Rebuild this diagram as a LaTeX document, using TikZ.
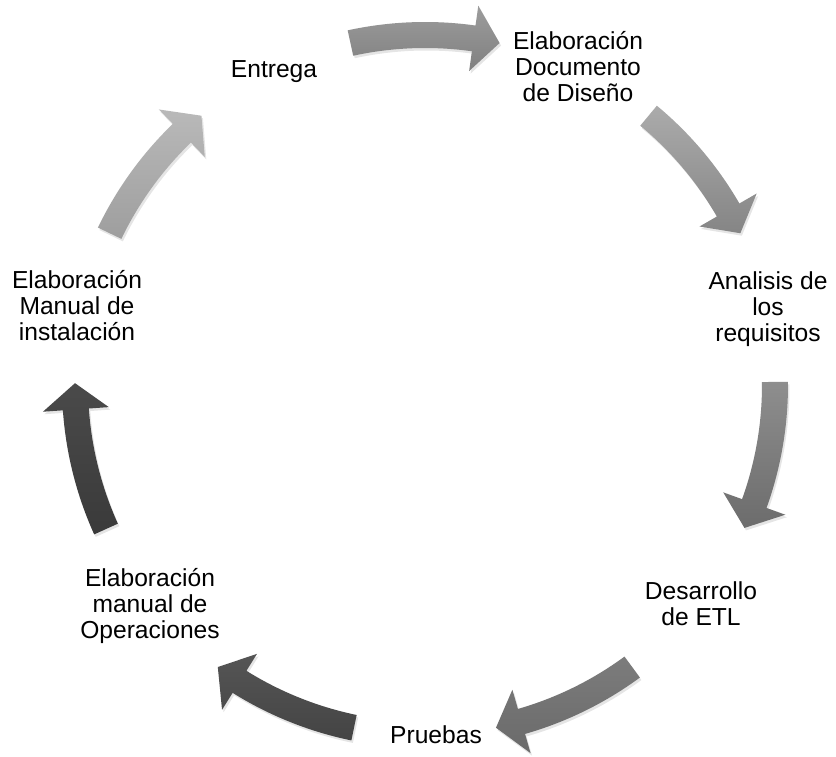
\documentclass[tikz,border=0pt]{standalone}
\usepackage{fontspec}
\setmainfont{Liberation Sans}
\definecolor{aAt}{HTML}{9C9C9C}\definecolor{aAb}{HTML}{808080}
\definecolor{aBt}{HTML}{ABABAB}\definecolor{aBb}{HTML}{858585}
\definecolor{aCt}{HTML}{8E8E8E}\definecolor{aCb}{HTML}{6C6C6C}
\definecolor{aDt}{HTML}{7C7C7C}\definecolor{aDb}{HTML}{6A6A6A}
\definecolor{aEt}{HTML}{555555}\definecolor{aEb}{HTML}{444444}
\definecolor{aFt}{HTML}{4A4A4A}\definecolor{aFb}{HTML}{3A3A3A}
\definecolor{aGt}{HTML}{B9B9B9}\definecolor{aGb}{HTML}{9E9E9E}
\newcommand\cycarrow[3]{% #1 mid angle, #2 top colour, #3 bottom colour
  \pgfmathsetmacro\cyA{#1+12.3}%
  \pgfmathsetmacro\cyB{#1-8}%
  \pgfmathsetmacro\cyC{#1-12.3}%
  \fill[black,opacity=0.10,shift={(1.5pt,-2.5pt)}] (\cyA:363pt) arc[start angle=\cyA,end angle=\cyB,radius=363pt] -- (\cyB:383pt) -- (\cyC:350pt) -- (\cyB:317pt) -- (\cyB:337pt) arc[start angle=\cyB,end angle=\cyA,radius=337pt] -- cycle;
  \shade[top color=#2,bottom color=#3] (\cyA:363pt) arc[start angle=\cyA,end angle=\cyB,radius=363pt] -- (\cyB:383pt) -- (\cyC:350pt) -- (\cyB:317pt) -- (\cyB:337pt) arc[start angle=\cyB,end angle=\cyA,radius=337pt] -- cycle;
}
\tikzset{
  lbl/.style={inner sep=0pt, anchor=base, font=\fontsize{24.6}{25.7}\selectfont},
}
\begin{document}
\begin{tikzpicture}[x=1pt,y=1pt]
\useasboundingbox (0,0) rectangle (836,756);
\fill[white] (0,0) rectangle (836,756);
\begin{scope}[shift={(425,371)}]
  \cycarrow{90}{aAt}{aAb}
  \cycarrow{38}{aBt}{aBb}
  \cycarrow{-11.8}{aCt}{aCb}
  \cycarrow{-66}{aDt}{aDb}
  \cycarrow{-114}{aEt}{aEb}
  \cycarrow{-168}{aFt}{aFb}
  \cycarrow{142}{aGt}{aGb}
\end{scope}
\node[lbl] (entrega) at (274,678) {Entrega};
\node[lbl] (diseno) at (578,706) {\begin{tabular}[t]{@{}c@{}}Elaboración\\Documento\\de Diseño\end{tabular}};
\node[lbl] (analisis) at (768,466) {\begin{tabular}[t]{@{}c@{}}Analisis de\\los\\requisitos\end{tabular}};
\node[lbl] (etl) at (701,156.5) {\begin{tabular}[t]{@{}c@{}}Desarrollo\\de ETL\end{tabular}};
\node[lbl] (pruebas) at (436,13) {Pruebas};
\node[lbl] (operaciones) at (150,169.3) {\begin{tabular}[t]{@{}c@{}}Elaboración\\manual de\\Operaciones\end{tabular}};
\node[lbl] (instalacion) at (77,467) {\begin{tabular}[t]{@{}c@{}}Elaboración\\Manual de\\instalación\end{tabular}};
\end{tikzpicture}
\end{document}
